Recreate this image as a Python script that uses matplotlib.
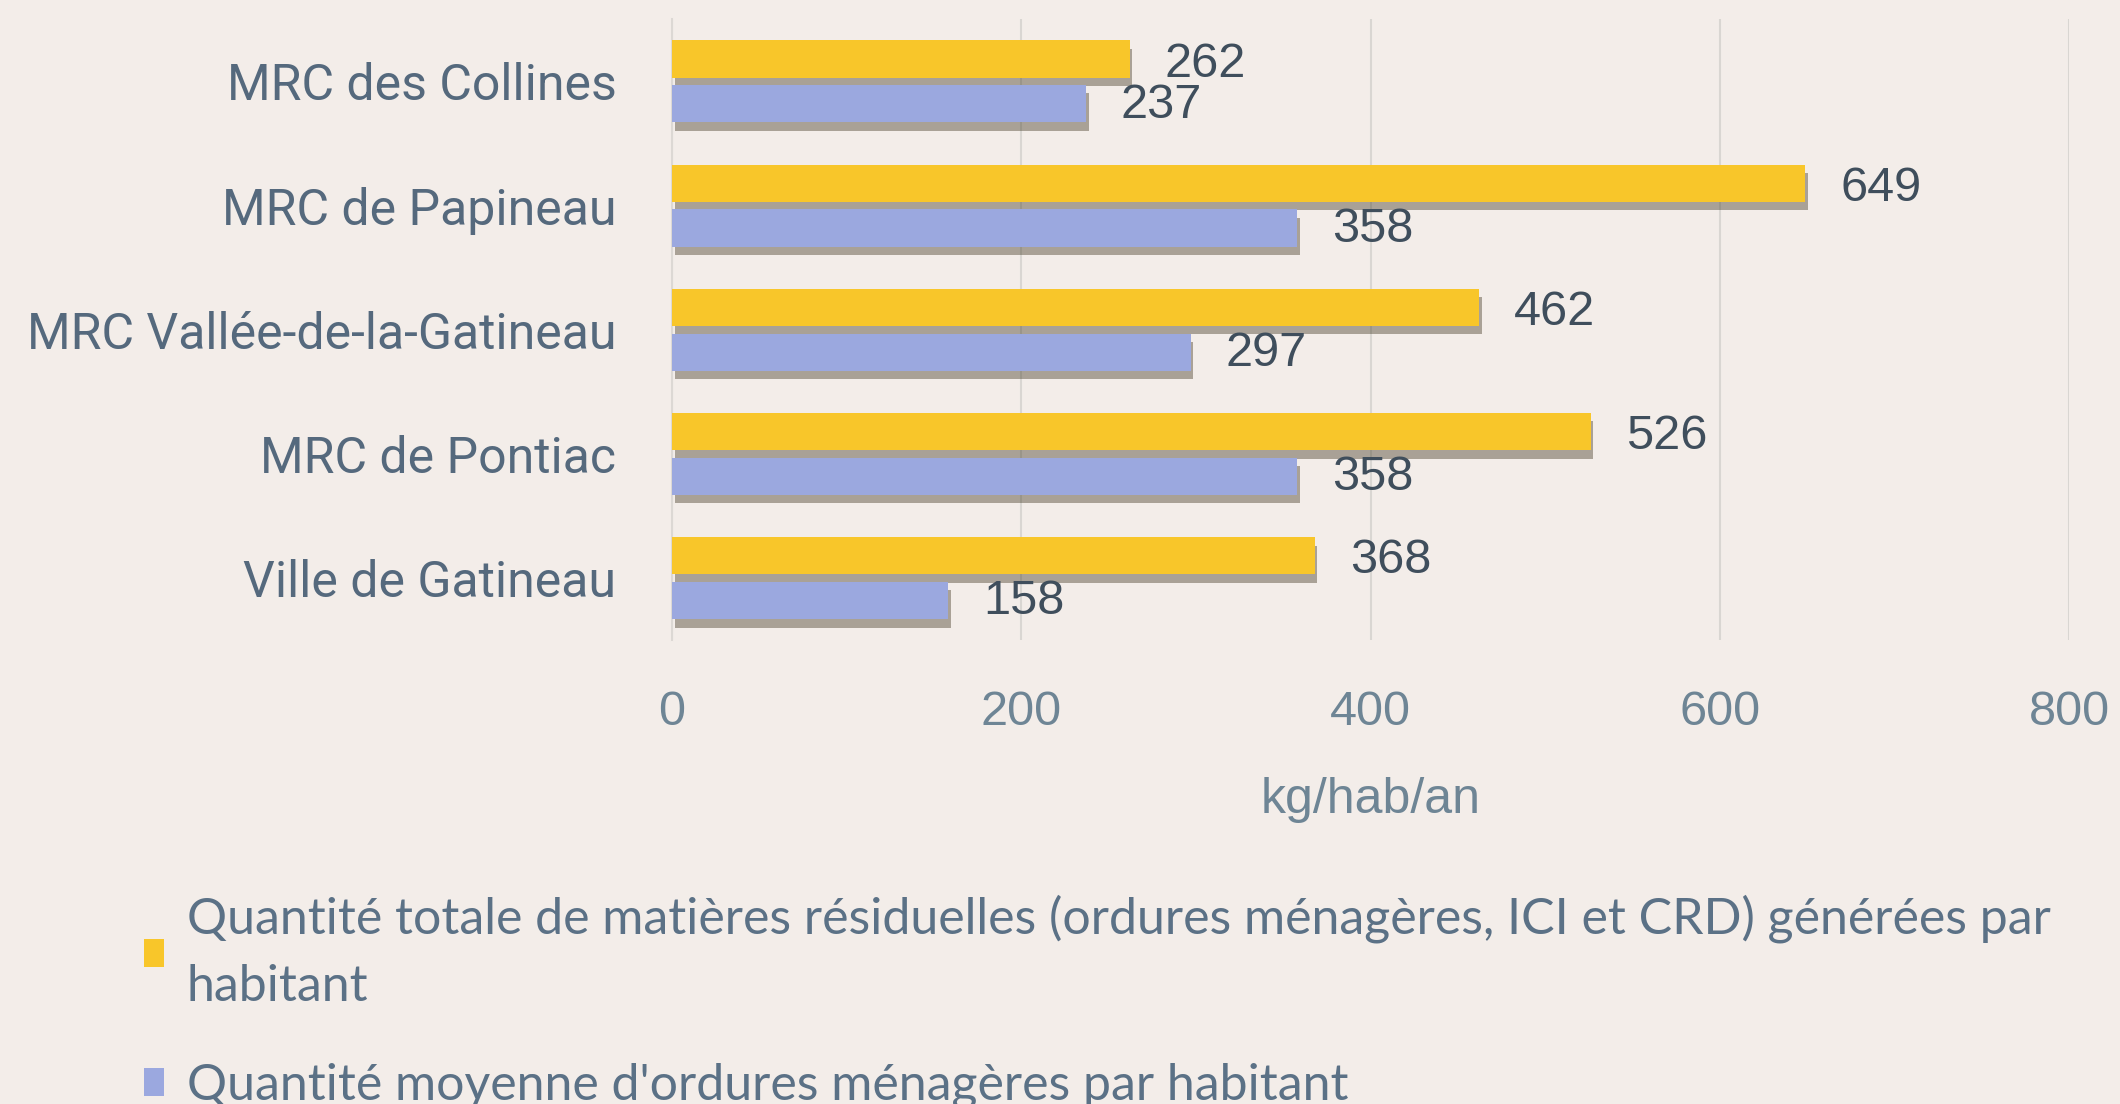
import matplotlib.pyplot as plt
import matplotlib.patheffects as pe
import numpy as np

categories = ["MRC des Collines", "MRC de Papineau", "MRC Vallée-de-la-Gatineau",
              "MRC de Pontiac", "Ville de Gatineau"]
total_values = [262, 649, 462, 526, 368]
household_values = [237, 358, 297, 358, 158]
series_names = [
    "Quantité totale de matières résiduelles (ordures ménagères, ICI et CRD) générées par\nhabitant",
    "Quantité moyenne d'ordures ménagères par habitant",
]
x_ticks = [0, 200, 400, 600, 800]
x_label = "kg/hab/an"

bg = "#F3EDE9"
yellow = "#F8C62A"
blue = "#9BA8DF"
label_col = "#55697D"
legend_col = "#5B7186"
value_col = "#3F4E5C"
tick_col = "#6E8595"

fig = plt.figure(figsize=(21.2, 11.04), dpi=100, facecolor=bg)
ax = fig.add_axes([0.317, 0.42, 0.659, 0.5625], facecolor=bg)

y = np.arange(len(categories))
h = 0.3
off = 0.18
shadow = [pe.SimplePatchShadow(offset=(2, -6), shadow_rgbFace="#4f4632", alpha=0.45), pe.Normal()]

b1 = ax.barh(y - off, total_values, height=h, color=yellow, label=series_names[0], zorder=3)
b2 = ax.barh(y + off, household_values, height=h, color=blue, label=series_names[1], zorder=3)
for bars in (b1, b2):
    for p in bars:
        p.set_path_effects(shadow)

for yi, v in zip(y - off, total_values):
    ax.text(v + 20, yi + 0.04, str(v), va="center", ha="left", fontsize=35,
            family="Liberation Sans", color=value_col, zorder=4)
for yi, v in zip(y + off, household_values):
    ax.text(v + 20, yi + 0.01, str(v), va="center", ha="left", fontsize=35,
            family="Liberation Sans", color=value_col, zorder=4)

ax.set_xlim(0, 800)
ax.set_ylim(len(categories) - 0.5, -0.5)
ax.set_xticks(x_ticks)
ax.set_xticklabels([str(t) for t in x_ticks], fontsize=35, family="Liberation Sans", color=tick_col)
ax.set_yticks(y)
ax.set_yticklabels(categories, fontsize=36, family="Roboto", color=label_col, va="center_baseline")
ax.tick_params(axis="x", length=0, pad=36)
ax.tick_params(axis="y", length=0, pad=40)
ax.set_xlabel(x_label, fontsize=36, family="Liberation Sans", color=tick_col, labelpad=30)

ax.grid(axis="x", color="#D9D6D2", linewidth=1.5, zorder=0)
for s in ["top", "right", "bottom"]:
    ax.spines[s].set_visible(False)
ax.spines["left"].set_color("#DCD8D4")
ax.spines["left"].set_linewidth(1.5)

leg = fig.legend(handles=[b1, b2], loc="upper left", bbox_to_anchor=(0.068, 0.19),
                 frameon=False, handlelength=0.4, handleheight=0.5,
                 handletextpad=0.45, labelspacing=1.05, borderaxespad=0, borderpad=0,
                 prop={"family": "Lato", "size": 36})
for t in leg.get_texts():
    t.set_color(legend_col)
    t.set_linespacing(1.57)
for p in leg.get_patches():
    p.set_path_effects([])

fig.savefig("out.png", dpi=100, facecolor=bg)
